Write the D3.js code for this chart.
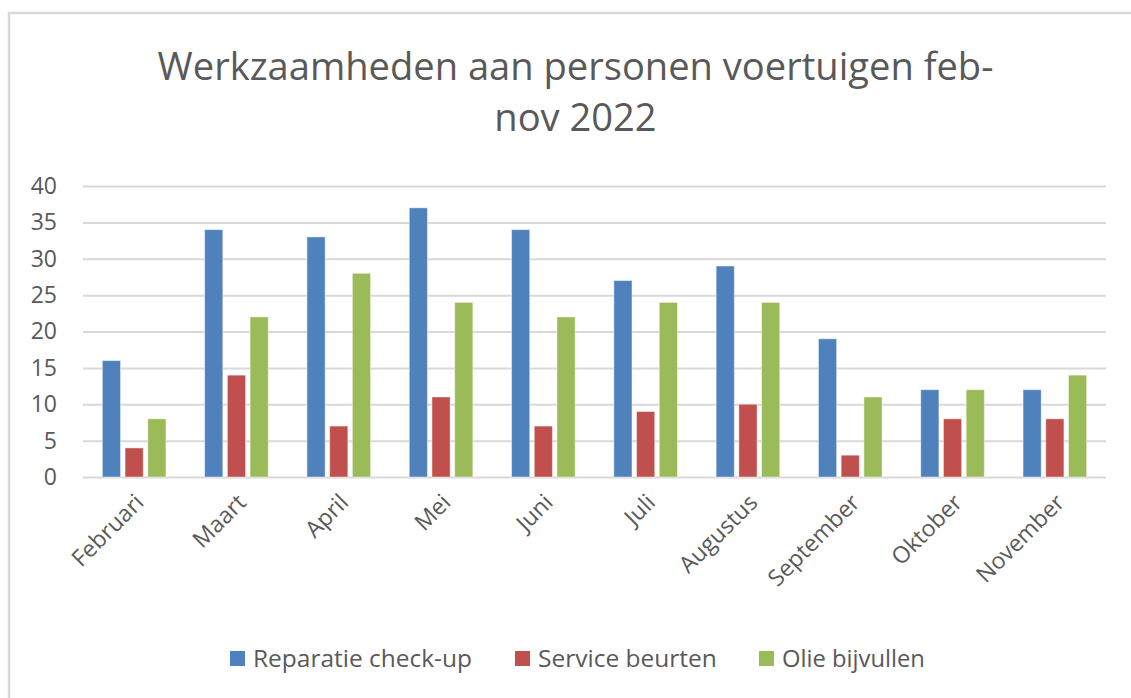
<!DOCTYPE html>
<html><head><meta charset="utf-8">
<script src="https://cdn.jsdelivr.net/npm/d3@7/dist/d3.min.js"></script>
<style>
html,body{margin:0;padding:0;background:#fff;}
svg{display:block;font-family:"Open Sans",sans-serif;}
</style></head>
<body>
<svg id="chart" width="1131" height="698"></svg>
<script>
const categories = ["Februari","Maart","April","Mei","Juni","Juli","Augustus","September","Oktober","November"];
const seriesNames = ["Reparatie check-up","Service beurten","Olie bijvullen"];
const reparatie = [16,34,33,37,34,27,29,19,12,12];
const service = [4,14,7,11,7,9,10,3,8,8];
const olie = [8,22,28,24,22,24,24,11,12,14];
const yTicks = [0,5,10,15,20,25,30,35,40];
const titleLines = ["Werkzaamheden aan personen voertuigen feb-","nov 2022"];
const colors = ["#4f81bd","#c0504d","#9bbb59"];

const values = [reparatie, service, olie];
const svg = d3.select("#chart");
const textColor = "#595959";

// outer chart border (only top and left visible)
svg.append("rect").attr("x",9).attr("y",13).attr("width",1200).attr("height",800)
  .attr("fill","none").attr("stroke","#d9d9d9").attr("stroke-width",2.5);

function fitWidth(sel, target){
  const n = sel.node();
  const fs = parseFloat(sel.attr("font-size"));
  const w = n.getComputedTextLength();
  sel.attr("font-size", fs*target/w);
}

// title
const t1 = svg.append("text").attr("x",575.5).attr("y",79.5).attr("text-anchor","middle")
  .attr("font-size",36).attr("fill",textColor).text(titleLines[0]);
fitWidth(t1, 836);
const t2 = svg.append("text").attr("x",575.5).attr("y",131).attr("text-anchor","middle")
  .attr("font-size",+t1.attr("font-size")).attr("fill",textColor).text(titleLines[1]);

const pLeft = 83, pRight = 1106, pTop = 186, pBottom = 477;
const x0 = d3.scaleBand().domain(categories).range([pLeft,pRight]).paddingInner(0).paddingOuter(0);
const groupW = 63.6;
const x1 = d3.scaleBand().domain(d3.range(3)).range([0,groupW]).paddingInner(0.2).paddingOuter(0);
const y = d3.scaleLinear().domain([0,40]).range([pBottom,pTop]);

// gridlines
const yAxis = d3.axisLeft(y).tickValues(yTicks).tickSize(-(pRight-pLeft)).tickPadding(26).tickFormat(d3.format("d"));
const ga = svg.append("g").attr("transform",`translate(${pLeft},0)`).call(yAxis);
ga.select(".domain").remove();
ga.selectAll(".tick line").attr("stroke","#d9d9d9").attr("stroke-width",2);
ga.selectAll(".tick text").attr("fill",textColor).attr("font-size",23).attr("font-family","Open Sans");

// bars
const groups = svg.append("g").selectAll("g").data(categories).join("g")
  .attr("transform",d=>`translate(${x0(d)+(x0.bandwidth()-groupW)/2},0)`);
groups.selectAll("rect").data((c,i)=>values.map((v,s)=>({s,v:v[i]}))).join("rect")
  .attr("x",d=>x1(d.s)).attr("width",x1.bandwidth())
  .attr("y",d=>y(d.v)).attr("height",d=>y(0)-y(d.v))
  .attr("fill",d=>colors[d.s]).attr("stroke","rgba(255,255,255,0.45)").attr("stroke-width",1);

// x axis labels
const xAxis = d3.axisBottom(x0).tickSize(0).tickPadding(0);
const gx = svg.append("g").attr("transform",`translate(0,${pBottom})`).call(xAxis);
gx.select(".domain").remove();
gx.selectAll(".tick text").attr("fill",textColor).attr("font-size",23).attr("font-family","Open Sans")
  .attr("text-anchor","end").attr("dy",null).attr("y",null)
  .attr("transform","translate(11,27) rotate(-45)");

// legend
const legendPos = [{sx:230,tx:253,tw:219},{sx:515,tx:538,tw:179},{sx:759,tx:782,tw:143}];
const lg = svg.append("g");
seriesNames.forEach((name,i)=>{
  lg.append("rect").attr("x",legendPos[i].sx).attr("y",651).attr("width",15).attr("height",15).attr("fill",colors[i]);
  const t = lg.append("text").attr("x",legendPos[i].tx).attr("y",667).attr("font-size",22)
    .attr("fill",textColor).text(name);
  fitWidth(t, legendPos[i].tw);
});
</script>
</body></html>
